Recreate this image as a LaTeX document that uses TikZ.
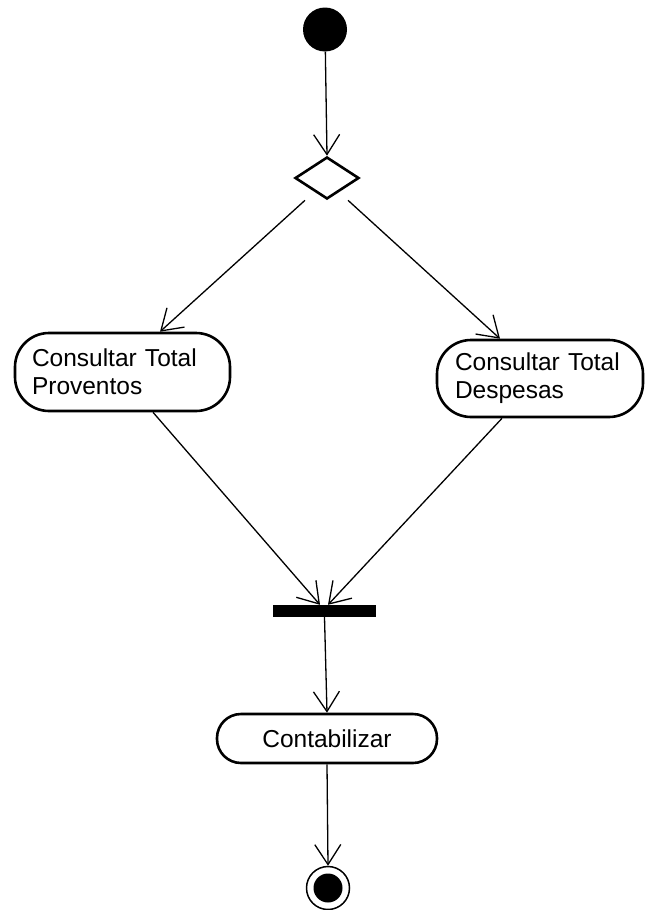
\documentclass[tikz,border=0pt]{standalone}
\usepackage{fontspec}
\setmainfont{Liberation Sans}
\usetikzlibrary{arrows.meta,shapes.geometric,calc}
\begin{document}
\begin{tikzpicture}[x=1pt,y=-1pt,
  flow/.style={line width=1.3pt,
    -{Straight Barb[length=20pt,width=26pt,line width=1.3pt]}},
  action/.style={draw, line width=2.6pt, rounded corners=#1, fill=white,
    font=\fontsize{24.5}{28}\selectfont, inner sep=0pt},
]
\useasboundingbox[fill=white] (0,0) rectangle (646,910);

% start and decision
\node[circle, fill=black, minimum size=44pt, inner sep=0pt] (start) at (325,29.5) {};
\node[diamond, draw, line width=2.6pt, minimum width=64pt, minimum height=42pt,
      inner sep=0pt, fill=white] (dec) at (327,178) {};

% the two queries
\node[action=34pt, minimum width=215pt, minimum height=78pt,
      text width=181pt, align=left] (pa) at (122.5,372)
      {Consultar Total\\Proventos};
\node[action=34pt, minimum width=206pt, minimum height=77pt,
      text width=170pt, align=left] (pb) at (540,378.5)
      {Consultar Total\\Despesas};

% synchronisation bar
\node[fill=black, minimum width=103pt, minimum height=12pt, inner sep=0pt] (bar) at (324.5,611) {};

% final action and end state
\node[action=24pt, minimum width=220pt, minimum height=49pt, align=center] (con) at (327,738.5) {Contabilizar};
\node[circle, draw, line width=1.5pt, fill=white, minimum size=43pt, inner sep=0pt] (stop) at (328,888) {};
\node[circle, fill=black, minimum size=29pt, inner sep=0pt] (stopdot) at (stop) {};

% connectors
\draw[flow] (start) -- (dec.north);
\draw[flow] ($(dec.south)+(-22,0)$) -- ($(pa.north)+(37.5,0)$);
\draw[flow] ($(dec.south)+(21,0)$) -- ($(pb.north)+(-40,0)$);
\draw[flow] ($(pa.south)+(30.5,0)$) -- ($(bar.north)+(-4.5,0)$);
\draw[flow] ($(pb.south)+(-38,0)$) -- ($(bar.north)+(3.5,0)$);
\draw[flow] (bar.south) -- (con.north);
\draw[flow] (con.south) -- (stop.north);
\end{tikzpicture}
\end{document}
